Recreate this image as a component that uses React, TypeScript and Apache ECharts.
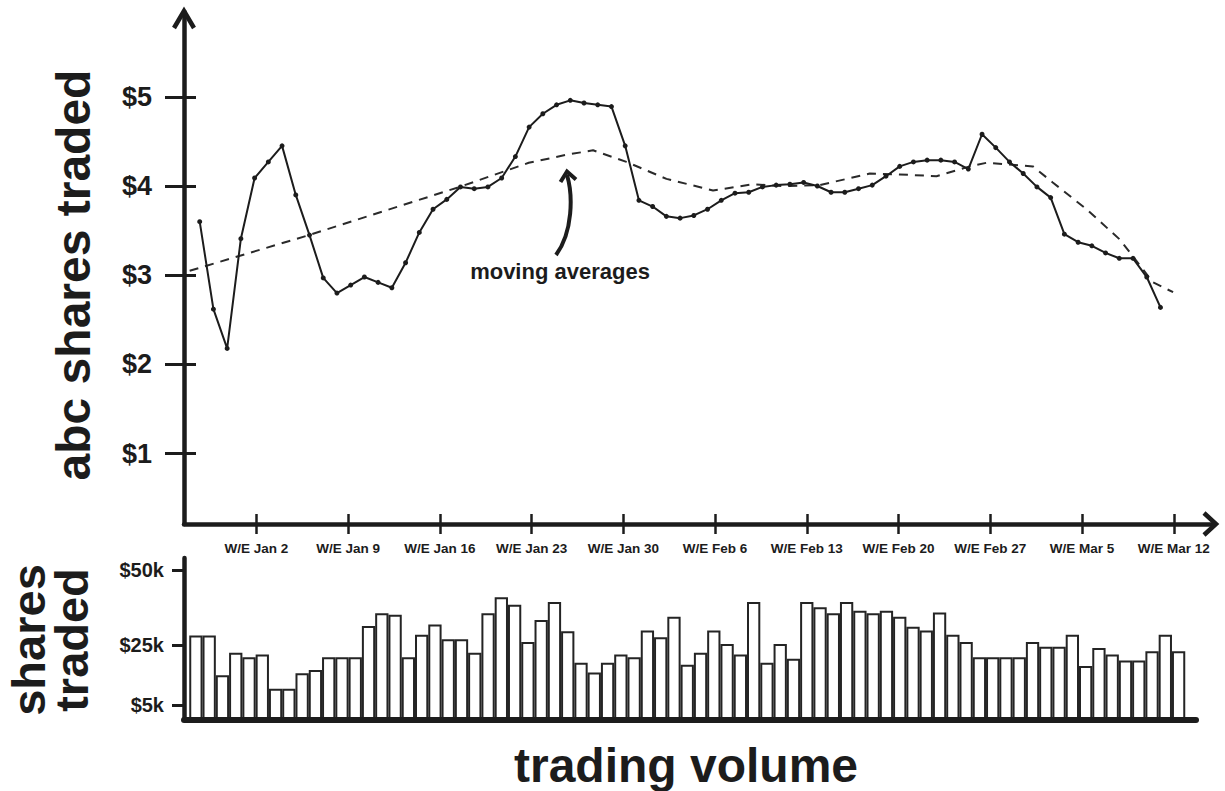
import React, { useEffect, useRef } from "react";
import * as echarts from "echarts";

// ---- data ----
const PRICE = [
  3.6, 2.62, 2.18, 3.41, 4.09, 4.27, 4.45, 3.9, 3.45, 2.97,
  2.8, 2.89, 2.98, 2.92, 2.86, 3.14, 3.48, 3.74, 3.85, 3.99,
  3.97, 3.99, 4.09, 4.33, 4.66, 4.81, 4.91, 4.96, 4.93, 4.91,
  4.89, 4.45, 3.84, 3.77, 3.66, 3.64, 3.67, 3.74, 3.84, 3.92,
  3.93, 3.99, 4.01, 4.02, 4.04, 4.0, 3.93, 3.93, 3.97, 4.01,
  4.11, 4.22, 4.27, 4.29, 4.29, 4.27, 4.19, 4.58, 4.43, 4.27,
  4.14, 3.99, 3.87, 3.46, 3.37, 3.33, 3.25, 3.19, 3.19, 2.98, 2.64,
];
// moving average: positions along the trading-day index, and values
const MA_POS = [-0.73, 7.96, 18.94, 23.97, 26.72, 28.66, 31.09, 34.01, 37.4, 40.32, 42.48, 45.18, 48.82, 51.0, 53.68, 56.11, 57.32, 60.7, 62.15, 64.61, 67.04, 69.46, 70.92];
const MA_VAL = [3.05, 3.45, 3.99, 4.26, 4.35, 4.4, 4.27, 4.08, 3.95, 4.02, 4.0, 4.01, 4.14, 4.13, 4.11, 4.22, 4.26, 4.22, 4.04, 3.74, 3.4, 2.92, 2.81];
// trading volume in thousands
const VOLUME = [
  28.2, 28.2, 14.9, 22.4, 20.9, 21.8, 10.4, 10.4, 15.6, 16.7,
  20.9, 20.9, 20.9, 31.3, 35.6, 35.1, 20.9, 28.4, 31.8, 26.9,
  26.9, 22.4, 35.6, 40.9, 38.4, 26.0, 33.3, 39.3, 29.6, 19.1,
  15.8, 19.1, 21.8, 20.9, 29.8, 27.6, 34.4, 18.4, 22.4, 29.8,
  25.3, 21.8, 39.3, 19.1, 25.3, 20.4, 39.3, 37.6, 35.6, 39.3,
  36.4, 35.6, 36.4, 34.4, 31.1, 29.8, 35.8, 28.4, 26.0, 20.9,
  20.9, 20.9, 20.9, 26.0, 24.4, 24.4, 28.4, 18.0, 24.0, 21.8,
  19.8, 19.8, 22.9, 28.4, 22.9,
];
const WEEK_LABELS = ["W/E Jan 2", "W/E Jan 9", "W/E Jan 16", "W/E Jan 23", "W/E Jan 30", "W/E Feb 6", "W/E Feb 13", "W/E Feb 20", "W/E Feb 27", "W/E Mar 5", "W/E Mar 12"];
const PRICE_TICKS = [1, 2, 3, 4, 5];
const VOLUME_TICKS = [5, 25, 50];

// ---- layout constants ----
const WEEK_FIRST = 4.13; // index position of first weekly tick
const WEEK_STEP = 6.684; // index units per week
const INK = "#1c1c1c";
const FONT = '"Liberation Sans", Arial, Helvetica, sans-serif';

export default function App() {
  const ref = useRef<HTMLDivElement>(null);
  useEffect(() => {
    if (!ref.current) return;
    const chart = echarts.init(ref.current, null, { renderer: "svg" });
    const weekPos = WEEK_LABELS.map((_, k) => WEEK_FIRST + k * WEEK_STEP);
    const xMin = -1.144;
    const xMax = 73.9;
    const yMin = 0.2125;
    const yMax = 5.95;

    chart.setOption({
      animation: false,
      backgroundColor: "#ffffff",
      grid: [
        { left: 184, top: 12, width: 1030, height: 512 },
        { left: 184, top: 558, width: 1012, height: 162 },
      ],
      xAxis: [
        {
          type: "value", gridIndex: 0, min: xMin, max: xMax, z: 5,
          splitLine: { show: false },
          axisLine: { show: true, onZero: false, lineStyle: { color: INK, width: 4.5 } },
          axisTick: { show: true, customValues: weekPos, length: 10, lineStyle: { color: INK, width: 2.5 } },
          axisLabel: {
            show: true, customValues: weekPos, margin: 17,
            color: INK, fontFamily: FONT, fontWeight: "bold", fontSize: 13.5,
            formatter: (v: number) => WEEK_LABELS[Math.round((v - WEEK_FIRST) / WEEK_STEP)] ?? "",
          },
        },
        {
          type: "value", gridIndex: 0, min: xMin, max: xMax, position: "bottom",
          splitLine: { show: false }, axisLine: { show: false, onZero: false }, axisLabel: { show: false },
          axisTick: { show: true, inside: true, customValues: weekPos, length: 10, lineStyle: { color: INK, width: 2.5 } },
        },
        {
          type: "value", gridIndex: 1, min: -0.896, max: 75.31, z: 5,
          splitLine: { show: false }, axisTick: { show: false }, axisLabel: { show: false },
          axisLine: { show: true, onZero: false, lineStyle: { color: INK, width: 6 } },
        },
      ],
      yAxis: [
        {
          type: "value", gridIndex: 0, min: yMin, max: yMax, z: 5,
          splitLine: { show: false },
          axisLine: { show: true, onZero: false, lineStyle: { color: INK, width: 4.5 } },
          axisTick: { show: true, customValues: PRICE_TICKS, length: 19, lineStyle: { color: INK, width: 3 } },
          axisLabel: {
            show: true, customValues: PRICE_TICKS, margin: 32,
            color: INK, fontFamily: FONT, fontWeight: "bold", fontSize: 27,
            formatter: (v: number) => "$" + v,
          },
        },
        {
          type: "value", gridIndex: 0, min: yMin, max: yMax, position: "left",
          splitLine: { show: false }, axisLine: { show: false, onZero: false }, axisLabel: { show: false },
          axisTick: { show: true, inside: true, customValues: PRICE_TICKS, length: 12, lineStyle: { color: INK, width: 3 } },
        },
        {
          type: "value", gridIndex: 1, min: 0, max: 54, z: 5,
          splitLine: { show: false },
          axisLine: { show: true, onZero: false, lineStyle: { color: INK, width: 4.5 } },
          axisTick: { show: true, customValues: VOLUME_TICKS, length: 12, lineStyle: { color: INK, width: 3 } },
          axisLabel: {
            show: true, customValues: VOLUME_TICKS, margin: 20,
            color: INK, fontFamily: FONT, fontWeight: "bold", fontSize: 20,
            formatter: (v: number) => "$" + v + "k",
          },
        },
      ],
      series: [
        {
          type: "line", xAxisIndex: 0, yAxisIndex: 0,
          data: MA_POS.map((p, i) => [p, MA_VAL[i]]),
          showSymbol: false, symbol: "none",
          lineStyle: { color: "#2a2a2a", width: 2, type: [9, 7] },
          z: 3,
        },
        {
          type: "line", xAxisIndex: 0, yAxisIndex: 0,
          data: PRICE.map((v, i) => [i, v]),
          symbol: "circle", symbolSize: 5, showSymbol: true,
          itemStyle: { color: INK },
          lineStyle: { color: INK, width: 2 },
          z: 4,
        },
        {
          type: "bar", xAxisIndex: 2, yAxisIndex: 2,
          data: VOLUME.map((v, i) => [i, v]),
          barWidth: 13.3,
          itemStyle: { color: "#ffffff", borderColor: "#242424", borderWidth: 2 },
        },
      ],
      graphic: [
        { type: "polyline", shape: { points: [[174, 28], [184, 11], [194, 28]] }, style: { stroke: INK, lineWidth: 4.5, fill: null }, z: 10 },
        { type: "polyline", shape: { points: [[1204, 513], [1216, 524], [1204, 535]] }, style: { stroke: INK, lineWidth: 4.5, fill: null }, z: 10 },
        { type: "bezierCurve", shape: { x1: 556, y1: 255, cpx1: 573, cpy1: 232, cpx2: 573, cpy2: 195, x2: 567, y2: 175 }, style: { stroke: INK, lineWidth: 4, fill: null }, z: 10 },
        { type: "polyline", shape: { points: [[560.5, 182], [567, 171.5], [576, 179.5]] }, style: { stroke: INK, lineWidth: 4, fill: null }, z: 10 },
        { type: "text", x: 560, y: 271, style: { text: "moving averages", fill: INK, font: `bold 22px ${FONT}`, align: "center", verticalAlign: "middle" }, z: 10 },
        { type: "text", x: 73, y: 275, rotation: Math.PI / 2, style: { text: "abc shares traded", fill: INK, font: `bold 48px ${FONT}`, align: "center", verticalAlign: "middle" }, z: 10 },
        { type: "text", x: 28, y: 640, rotation: Math.PI / 2, style: { text: "shares", fill: INK, font: `bold 47px ${FONT}`, align: "center", verticalAlign: "middle" }, z: 10 },
        { type: "text", x: 71, y: 640, rotation: Math.PI / 2, style: { text: "traded", fill: INK, font: `bold 47px ${FONT}`, align: "center", verticalAlign: "middle" }, z: 10 },
        { type: "text", x: 686, y: 765, style: { text: "trading volume", fill: INK, font: `bold 48px ${FONT}`, align: "center", verticalAlign: "middle" }, z: 10 },
      ],
    });
    return () => chart.dispose();
  }, []);
  return <div ref={ref} style={{ position: "fixed", left: 0, top: 0, width: 1225, height: 791 }} />;
}
